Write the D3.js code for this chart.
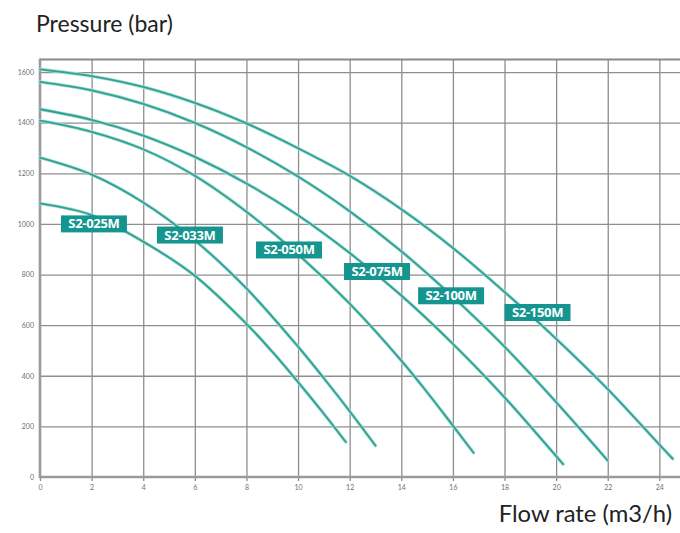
<!DOCTYPE html>
<html>
<head>
<meta charset="utf-8">
<script src="https://cdn.jsdelivr.net/npm/d3@7"></script>
<style>
  html, body { margin: 0; padding: 0; background: #fff; }
  svg { display: block; }
</style>
</head>
<body>
<svg id="chart" width="680" height="533"></svg>
<script>
// ---------- data ----------
const xTickValues = [0, 2, 4, 6, 8, 10, 12, 14, 16, 18, 20, 22, 24];
const yTickValues = [0, 200, 400, 600, 800, 1000, 1200, 1400, 1600];
const seriesNames = ["S2-025M", "S2-033M", "S2-050M", "S2-075M", "S2-100M", "S2-150M"];

// [flow rate (m3/h), pressure]
const curveS2_025M = [[0,1081],[2,1035],[4,930],[6,795],[8,605],[9,495],[10,375],[11,250],[11.85,138]];
const curveS2_033M = [[0,1262],[2,1195],[4,1085],[6,935],[8,745],[10,515],[11,390],[12,260],[13,124]];
const curveS2_050M = [[0,1408],[2,1364],[4,1295],[6,1190],[8,1048],[10,880],[12,685],[14,460],[15,335],[16,203],[16.8,96]];
const curveS2_075M = [[0,1453],[2,1411],[4,1349],[6,1265],[8,1160],[10,1034],[12,885],[14,717],[16,526],[18,315],[19,200],[20.27,51]];
const curveS2_100M = [[0,1561],[2,1528],[4,1474],[6,1399],[8,1303],[10,1187],[12,1050],[14,892],[16,712],[18,515],[20,296],[22,65]];
const curveS2_150M = [[0,1611],[2,1584],[4,1541],[6,1478],[8,1397],[10,1299],[12,1190],[14,1058],[16,905],[18,731],[20,546],[22,347],[24,128],[24.52,72]];

// label anchor points (flow, pressure) for each series tag
const labelFlow     = [2.09, 5.81, 9.65, 13.06, 15.93, 19.28];
const labelPressure = [1000, 956, 897, 812, 716, 650];

const xDomain = [0, 24.8];
const yDomain = [0, 1650];

// ---------- drawing ----------
const curves = [curveS2_025M, curveS2_033M, curveS2_050M, curveS2_075M, curveS2_100M, curveS2_150M];
const svg = d3.select("#chart");

const plotLeft = 40, plotRight = 680, plotBottom = 477, plotTop = 59.4;
const x = d3.scaleLinear().domain(xDomain).range([plotLeft, plotRight]);
const y = d3.scaleLinear().domain(yDomain).range([plotBottom, plotTop]);

const gridColor = "#8e8e8e";
const tickFont = "Lato, 'Open Sans', sans-serif";

// horizontal grid + y labels
const yAxis = d3.axisLeft(y)
  .tickValues(yTickValues)
  .tickSizeInner(-(plotRight - plotLeft))
  .tickSizeOuter(0)
  .tickPadding(6)
  .tickFormat(d3.format("d"));
const gy = svg.append("g").attr("transform", `translate(${plotLeft},0)`).call(yAxis);
gy.select(".domain").remove();
gy.selectAll(".tick line").attr("stroke", gridColor).attr("stroke-width", 1.3)
  .filter(d => d === 0).remove();
gy.selectAll(".tick text").attr("fill", "#707070").style("font-size", "7px").style("font-family", tickFont);

// vertical grid + x labels
const xAxis = d3.axisBottom(x)
  .tickValues(xTickValues)
  .tickSizeInner(-(plotBottom - plotTop))
  .tickSizeOuter(0)
  .tickPadding(8)
  .tickFormat(d3.format("d"));
const gx = svg.append("g").attr("transform", `translate(0,${plotBottom})`).call(xAxis);
gx.select(".domain").remove();
gx.selectAll(".tick line").attr("stroke", gridColor).attr("stroke-width", 1.3)
  .filter(d => d === 0).remove();
gx.selectAll(".tick text").attr("fill", "#707070").style("font-size", "7px").style("font-family", tickFont);

// small tick stubs below x axis
const gxs = svg.append("g").attr("transform", `translate(0,${plotBottom})`)
  .call(d3.axisBottom(x).tickValues(xTickValues).tickSizeInner(4).tickSizeOuter(0).tickFormat(""));
gxs.select(".domain").remove();
gxs.selectAll(".tick line").attr("stroke", gridColor).attr("stroke-width", 1.3);

// top border
svg.append("line")
  .attr("x1", x(0)).attr("x2", plotRight)
  .attr("y1", y(yDomain[1])).attr("y2", y(yDomain[1]))
  .attr("stroke", "#8a8a8a").attr("stroke-width", 2);

// axes lines (left and bottom)
svg.append("line")
  .attr("x1", x(0)).attr("x2", x(0))
  .attr("y1", y(yDomain[1]) - 1).attr("y2", y(0) + 1)
  .attr("stroke", "#9a9a9a").attr("stroke-width", 2.6);
svg.append("line")
  .attr("x1", x(0) - 1).attr("x2", plotRight)
  .attr("y1", y(0)).attr("y2", y(0))
  .attr("stroke", "#9a9a9a").attr("stroke-width", 2.4);

// curves
const line = d3.line()
  .x(d => x(d[0]))
  .y(d => y(d[1]))
  .curve(d3.curveCatmullRom.alpha(0.5));

const gc = svg.append("g");
curves.forEach(c => {
  gc.append("path").datum(c)
    .attr("d", line)
    .attr("fill", "none")
    .attr("stroke", "#a8ddd6")
    .attr("stroke-width", 3.4)
    .attr("stroke-linecap", "round");
  gc.append("path").datum(c)
    .attr("d", line)
    .attr("fill", "none")
    .attr("stroke", "#2fa293")
    .attr("stroke-width", 1.8)
    .attr("stroke-linecap", "round");
});

// series labels
const boxW = 66, boxH = 17;
const gl = svg.append("g");
seriesNames.forEach((name, i) => {
  const cx = x(labelFlow[i]), cy = y(labelPressure[i]);
  gl.append("rect")
    .attr("x", cx - boxW / 2).attr("y", cy - boxH / 2)
    .attr("width", boxW).attr("height", boxH)
    .attr("fill", "#14958f");
  gl.append("text")
    .attr("x", cx).attr("y", cy + 4.5)
    .attr("text-anchor", "middle")
    .attr("fill", "#ffffff")
    .style("font-family", "'Open Sans', Lato, sans-serif")
    .style("font-weight", "700")
    .style("font-size", "13px")
    .style("letter-spacing", "-0.3px")
    .text(name);
});

// axis titles
svg.append("text")
  .attr("x", 36).attr("y", 32)
  .style("font-family", "Lato, 'Open Sans', sans-serif")
  .style("font-size", "23px")
  .attr("fill", "#222")
  .text("Pressure (bar)");
svg.append("text")
  .attr("x", 672).attr("y", 522)
  .attr("text-anchor", "end")
  .style("font-family", "Lato, 'Open Sans', sans-serif")
  .style("font-size", "23.8px")
  .attr("fill", "#222")
  .text("Flow rate (m3/h)");
</script>
</body>
</html>
